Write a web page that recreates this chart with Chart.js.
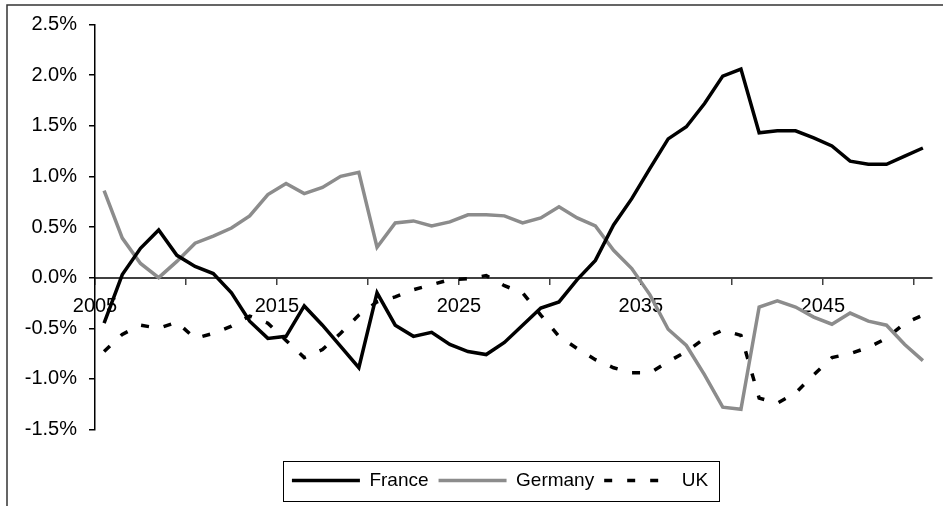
<!DOCTYPE html>
<html>
<head>
<meta charset="utf-8">
<title>France, Germany, UK</title>
<script src="https://cdn.jsdelivr.net/npm/chart.js@4.4.1/dist/chart.umd.min.js"></script>
<style>
    html, body { margin: 0; padding: 0; background: #fff; }
    #wrap { width: 943px; height: 506px; position: relative; }
</style>
</head>
<body>
<div id="wrap"><canvas id="chart"></canvas></div>
<script>
    "use strict";

    // Data
    var years = [2005, 2006, 2007, 2008, 2009, 2010, 2011, 2012, 2013, 2014,
                 2015, 2016, 2017, 2018, 2019, 2020, 2021, 2022, 2023, 2024,
                 2025, 2026, 2027, 2028, 2029, 2030, 2031, 2032, 2033, 2034,
                 2035, 2036, 2037, 2038, 2039, 2040, 2041, 2042, 2043, 2044,
                 2045, 2046, 2047, 2048, 2049, 2050];
    var france = [-0.45, 0.03, 0.29, 0.47, 0.22, 0.11, 0.04, -0.15, -0.43, -0.60,
                  -0.58, -0.28, -0.47, -0.68, -0.89, -0.15, -0.47, -0.58, -0.54, -0.66,
                  -0.73, -0.76, -0.64, -0.47, -0.30, -0.24, -0.02, 0.17, 0.52, 0.78,
                  1.08, 1.37, 1.49, 1.72, 1.99, 2.06, 1.43, 1.45, 1.45, 1.38,
                  1.30, 1.15, 1.12, 1.12, 1.20, 1.28];
    var germany = [0.86, 0.39, 0.14, 0.00, 0.16, 0.34, 0.41, 0.49, 0.61, 0.82,
                   0.93, 0.83, 0.89, 1.00, 1.04, 0.30, 0.54, 0.56, 0.51, 0.55,
                   0.62, 0.62, 0.61, 0.54, 0.59, 0.70, 0.59, 0.51, 0.27, 0.09,
                   -0.17, -0.51, -0.67, -0.96, -1.28, -1.30, -0.29, -0.23, -0.29, -0.39,
                   -0.46, -0.35, -0.43, -0.47, -0.66, -0.82];
    var uk = [-0.73, -0.56, -0.47, -0.50, -0.44, -0.60, -0.55, -0.48, -0.38, -0.45,
              -0.62, -0.79, -0.71, -0.55, -0.37, -0.24, -0.19, -0.12, -0.07, -0.02,
              -0.01, 0.02, -0.08, -0.15, -0.37, -0.58, -0.70, -0.81, -0.89, -0.94,
              -0.94, -0.83, -0.73, -0.60, -0.52, -0.57, -1.19, -1.24, -1.14, -0.96,
              -0.79, -0.75, -0.69, -0.60, -0.45, -0.37];
    var xLabels = ['2005', '2015', '2025', '2035', '2045'];

    // tick marks sit between categories, every 5 years
    var xTicks = years.filter(function (y, i) { return i % 5 === 0; })
                      .map(function (y) { return y - 0.5; });

    Chart.defaults.font.family = "'Liberation Sans', Arial, sans-serif";
    Chart.defaults.color = '#000';

    // Frame round the picture, box round the legend
    var framePlugin = {
        id: 'frame',
        afterLayout: function (chart) {
            // centre the legend a little left of the plot, like the original
            chart.legend.left = 70;
            chart.legend.right = 930;
            chart.legend.width = 860;
        },
        afterDraw: function (chart) {
            var ctx = chart.ctx;
            ctx.save();
            ctx.strokeStyle = '#333';
            ctx.lineWidth = 1.5;
            ctx.beginPath();
            ctx.moveTo(7, chart.height);
            ctx.lineTo(7, 5);
            ctx.lineTo(chart.width, 5);
            ctx.stroke();

            var boxes = chart.legend.legendHitBoxes;
            if (boxes && boxes.length) {
                var first = boxes[0], last = boxes[boxes.length - 1];
                var l = first.left - 9, r = last.left + last.width + 11;
                var t = first.top - 10.5, b = first.top + first.height + 10.5;
                ctx.lineWidth = 1;
                ctx.strokeStyle = '#000';
                ctx.strokeRect(Math.round(l) + 0.5, Math.round(t) + 0.5, Math.round(r - l), Math.round(b - t));
            }
            ctx.restore();
        }
    };

    var ctx = document.getElementById('chart').getContext('2d');
    var chart = new Chart(ctx, {
        type: 'line',
        data: {
            labels: years,
            datasets: [{
                label: 'France',
                data: france,
                borderColor: '#000',
                backgroundColor: '#000',
                borderWidth: 3.5
            }, {
                label: 'Germany',
                data: germany,
                borderColor: '#8c8c8c',
                backgroundColor: '#8c8c8c',
                borderWidth: 3.5
            }, {
                label: 'UK',
                data: uk,
                borderColor: '#000',
                backgroundColor: '#000',
                borderWidth: 3.5,
                borderDash: [8, 15]
            }]
        },
        options: {
            responsive: true,
            maintainAspectRatio: false,
            animation: false,
            elements: {
                point: { radius: 0, hoverRadius: 0 },
                line: { tension: 0, borderJoinStyle: 'miter', borderCapStyle: 'butt' }
            },
            layout: { padding: { left: 7, right: 11, top: 24.5, bottom: 6 } },
            scales: {
                x: {
                    type: 'linear',
                    min: 2004.5,
                    max: 2050.5,
                    position: { y: 0 },
                    afterBuildTicks: function (axis) {
                        axis.ticks = xTicks.map(function (v) { return { value: v }; });
                    },
                    grid: { drawOnChartArea: false, tickLength: 6, color: '#404040', lineWidth: 1.5 },
                    border: { color: '#404040', width: 2 },
                    ticks: {
                        autoSkip: false,
                        maxRotation: 0,
                        padding: 11,
                        font: { size: 20 },
                        callback: function (v, i) { return i % 2 === 0 ? xLabels[i / 2] : ''; }
                    }
                },
                y: {
                    min: -1.5,
                    max: 2.5,
                    afterFit: function (axis) { axis.width = 88; },
                    grid: { drawOnChartArea: false, tickLength: 6, color: '#000', lineWidth: 1.5 },
                    border: { color: '#000', width: 1.5 },
                    ticks: {
                        stepSize: 0.5,
                        padding: 12,
                        font: { size: 20 },
                        callback: function (v) { return v.toFixed(1) + '%'; }
                    }
                }
            },
            plugins: {
                tooltip: { enabled: false },
                legend: {
                    position: 'bottom',
                    title: { display: true, text: ' ', font: { size: 1, lineHeight: 1 }, padding: { top: 30.5, bottom: 0 } },
                    labels: {
                        usePointStyle: true,
                        pointStyle: 'line',
                        pointStyleWidth: 68,
                        padding: 10,
                        font: { size: 19 },
                        color: '#000',
                        generateLabels: function (chart) {
                            var items = Chart.defaults.plugins.legend.labels.generateLabels(chart);
                            items.forEach(function (item) {
                                item.lineDash = chart.data.datasets[item.datasetIndex].borderDash || [];
                            });
                            return items;
                        }
                    }
                }
            }
        },
        plugins: [framePlugin]
    });
</script>
</body>
</html>
